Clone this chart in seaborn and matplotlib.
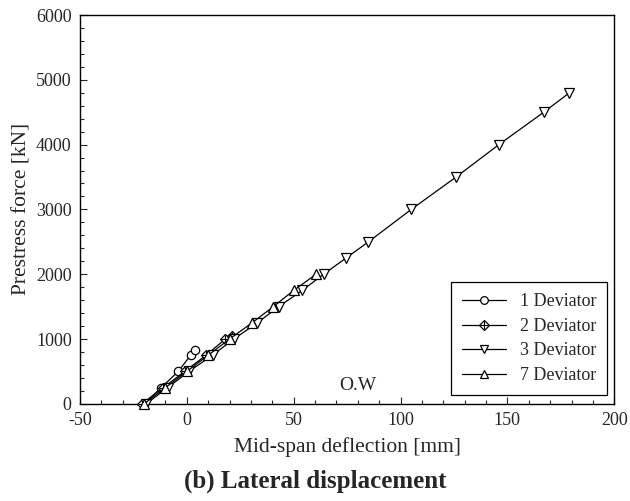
import matplotlib
matplotlib.use("Agg")
import matplotlib.pyplot as plt
from matplotlib.lines import Line2D
from matplotlib.ticker import MultipleLocator
import seaborn as sns

# Mid-span deflection [mm] and prestress force [kN] for each deviator layout
dev1_x = [-20, -12, -4, 2, 4]
dev1_y = [0, 250, 500, 760, 830]

dev2_x = [-21, -11, -1, 9, 18, 21]
dev2_y = [0, 250, 500, 750, 1000, 1050]

dev3_x = [-19, -9, 1, 12, 22, 33, 43, 54, 64, 74.5, 85, 105, 126, 146, 167, 179]
dev3_y = [0, 250, 500, 750, 1000, 1250, 1500, 1750, 2000, 2250, 2500, 3000,
          3500, 4000, 4500, 4800]

dev7_x = [-20, -10, 0, 10, 20, 30.5, 40.5, 50, 60.5]
dev7_y = [0, 250, 500, 750, 1000, 1250, 1500, 1750, 2000]

labels = ["1 Deviator", "2 Deviator", "3 Deviator", "7 Deviator"]

sns.set_style("ticks")
plt.rcParams["font.family"] = ["Liberation Serif", "DejaVu Serif"]
plt.rcParams["axes.unicode_minus"] = False

fig = plt.figure(figsize=(6.3, 5.01), dpi=100)
ax = fig.add_axes([0.127, 0.194, 0.848, 0.776])

style = dict(color="black", linewidth=0.9, markerfacecolor="white",
             markeredgecolor="black", markeredgewidth=0.9,
             sort=False, estimator=None, ax=ax, clip_on=False, zorder=3)

sns.lineplot(x=dev1_x, y=dev1_y, marker="o", markersize=6, **style)
sns.lineplot(x=dev2_x, y=dev2_y, marker="D", markersize=5, **style)
ax.plot(dev2_x, dev2_y, linestyle="none", marker="+", markersize=6,
        markeredgecolor="black", markeredgewidth=0.8, clip_on=False, zorder=3)
sns.lineplot(x=dev3_x, y=dev3_y, marker="v", markersize=6.5, **style)
sns.lineplot(x=dev7_x, y=dev7_y, marker="^", markersize=6.5, **style)

ax.set_xlim(-50, 200)
ax.set_ylim(0, 6000)
ax.xaxis.set_major_locator(MultipleLocator(50))
ax.xaxis.set_minor_locator(MultipleLocator(10))
ax.yaxis.set_major_locator(MultipleLocator(1000))
ax.yaxis.set_minor_locator(MultipleLocator(200))
ax.tick_params(which="both", direction="in", top=False, right=False,
               labelsize=13, width=0.8, pad=6)
ax.tick_params(which="major", length=5)
ax.tick_params(which="minor", length=3)
for s in ax.spines.values():
    s.set_linewidth(1.0)
    s.set_color("black")

ax.set_xlabel("Mid-span deflection [mm]", fontsize=15.5, labelpad=6)
ax.set_ylabel("Prestress force [kN]", fontsize=15.5, labelpad=3)

ax.text(80, 150, "O.W", fontsize=14, ha="center", va="bottom")

fig.text(0.5, 0.04, "(b) Lateral displacement", ha="center", va="center",
         fontsize=18, fontweight="bold")

h_common = dict(color="black", linewidth=0.9, markerfacecolor="white",
                markeredgecolor="black", markeredgewidth=0.9)
h1 = Line2D([], [], marker="o", markersize=5.5, **h_common)
h2a = Line2D([], [], marker="D", markersize=5, **h_common)
h2b = Line2D([], [], linestyle="none", marker="+", markersize=6,
             markeredgecolor="black", markeredgewidth=0.8)
h3 = Line2D([], [], marker="v", markersize=6, **h_common)
h7 = Line2D([], [], marker="^", markersize=6, **h_common)

leg = ax.legend([h1, (h2a, h2b), h3, h7], labels, loc="lower right",
                bbox_to_anchor=(0.987, 0.023), borderaxespad=0,
                fontsize=13, handlelength=2.4, labelspacing=0.42,
                fancybox=False, framealpha=1, edgecolor="black",
                borderpad=0.6, handletextpad=0.8)
leg.get_frame().set_linewidth(0.9)
leg.set_zorder(5)

fig.savefig("out.png", dpi=100)
